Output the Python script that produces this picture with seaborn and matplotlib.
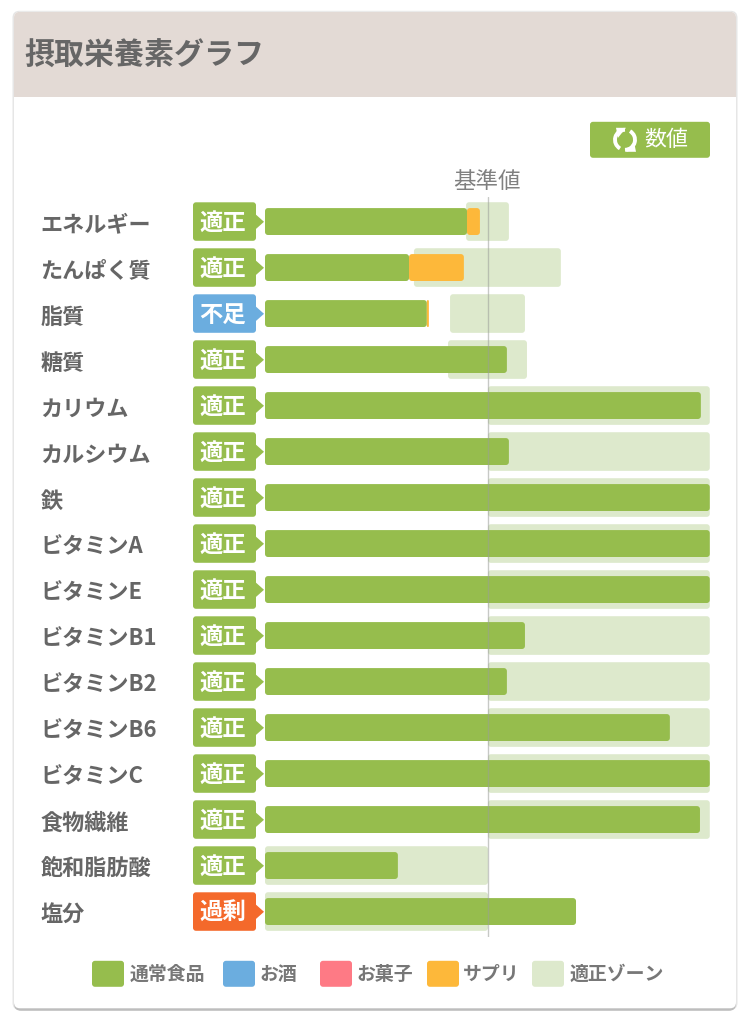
import numpy as np
import seaborn as sns
import matplotlib.pyplot as plt
from matplotlib.patches import FancyBboxPatch, Polygon, Arc, Rectangle

nutrients = ['エネルギー', 'たんぱく質', '脂質', '糖質', 'カリウム', 'カルシウム', '鉄', 'ビタミンA',
             'ビタミンE', 'ビタミンB1', 'ビタミンB2', 'ビタミンB6', 'ビタミンC', '食物繊維', '飽和脂肪酸', '塩分']
status = ['適正', '適正', '不足', '適正', '適正', '適正', '適正', '適正',
          '適正', '適正', '適正', '適正', '適正', '適正', '適正', '過剰']
# 基準値 = 100
food = [90.6, 64.6, 72.6, 108.5, 195.5, 109.4, 199.5, 199.5,
        199.5, 116.6, 108.5, 181.6, 199.5, 195.1, 59.6, 139.5]
supp = [5.8, 24.6, 0.9, 0, 0, 0, 0, 0, 0, 0, 0, 0, 0, 0, 0, 0]
zone_lo = [90.2, 66.8, 83.0, 82.1, 100, 100, 100, 100, 100, 100, 100, 100, 100, 100, 0, 0]
zone_hi = [109.4, 132.7, 116.6, 117.5, 199.5, 199.5, 199.5, 199.5,
           199.5, 199.5, 199.5, 199.5, 199.5, 199.5, 100, 100]
legend_names = ['通常食品', 'お酒', 'お菓子', 'サプリ', '適正ゾーン']
legend_colors = ['#96BD4D', '#6BADDF', '#FE7A85', '#FDB83A', '#DDE9CC']
legend_box_x = [92, 223, 320, 427, 532]
legend_text_x = [130, 259, 356, 463, 570]
status_colors = {'適正': '#96BD4D', '不足': '#6BADDF', '過剰': '#F4692B'}

GREEN = '#96BD4D'
ZONE = '#DDE9CC'
ORANGE = '#FDB83A'
TEXT = '#666666'

sns.set_style('white')
plt.rcParams['font.family'] = ['Noto Sans CJK JP', 'DejaVu Sans']

W, H = 750, 1020
fig = plt.figure(figsize=(W / 100, H / 100), dpi=100, facecolor='white')

# 背景レイヤー（ピクセル座標）
bg = fig.add_axes([0, 0, 1, 1], zorder=0)
bg.set_xlim(0, W)
bg.set_ylim(H - 0.8, -0.8)
bg.axis('off')


def round_box(x0, y0, x1, y1, color, r=4, **kw):
    p = FancyBboxPatch((x0, y0), x1 - x0, y1 - y0, boxstyle='round,pad=0,rounding_size=%s' % r,
                       fc=color, ec='none', **kw)
    bg.add_patch(p)
    return p


# カード
round_box(12.5, 11, 737.5, 1010, '#E6E6E6', r=7)
round_box(14, 14, 736, 1011, '#BDBDBD', r=7)
card = round_box(14, 12, 736, 1008.5, 'white', r=6)
header = Rectangle((14, 12), 722, 85, fc='#E3DAD5', ec='none')
bg.add_patch(header)
header.set_clip_path(card)
bg.text(24, 55, '摂取栄養素グラフ', fontsize=21.6, fontweight='bold', color=TEXT, ha='left', va='center')

# 数値ボタン
round_box(590, 122, 710, 158, GREEN, r=3)
bg.text(666, 139.5, '数値', fontsize=15.8, color='white', ha='center', va='center')
bg.add_patch(Arc((625, 140), 20, 20, theta1=120, theta2=270, color='white', lw=2.8))
bg.add_patch(Arc((625, 140), 20, 20, theta1=300, theta2=90, color='white', lw=2.8))
bg.add_patch(Polygon([(616, 128), (626, 128), (618, 138)], fc='white', ec='none'))
bg.add_patch(Polygon([(636, 152), (626, 152), (634, 142)], fc='white', ec='none'))

bg.text(487, 181, '基準値', fontsize=16.2, color='#808080', ha='center', va='center')

# 判定ラベル
for i, s in enumerate(status):
    cy = 222 + 46 * i
    c = status_colors[s]
    round_box(193, cy - 19.5, 256, cy + 19, c, r=3)
    bg.add_patch(Polygon([(255, cy - 8), (264, cy), (255, cy + 8)], fc=c, ec='none'))
    bg.text(223, cy, s, fontsize=16.8, fontweight='bold', color='white', ha='center', va='center')

# 凡例
for name, c, bx, tx in zip(legend_names, legend_colors, legend_box_x, legend_text_x):
    round_box(bx, 961, bx + 32, 987, c, r=3)
    bg.text(tx, 974, name, fontsize=13.6, fontweight='bold', color='#777777', ha='left', va='center')

# グラフ本体
ax = fig.add_axes([265 / W, 1 - 938.3 / H, 445 / W, 740.6 / H], zorder=1)
ax.patch.set_alpha(0)
zone_width = np.array(zone_hi) - np.array(zone_lo)
sns.barplot(y=nutrients, x=zone_width, left=zone_lo, order=nutrients, orient='h', color=ZONE,
            saturation=1, width=0.84, errorbar=None, ax=ax)
sns.barplot(y=nutrients, x=food, order=nutrients, orient='h', color=GREEN,
            saturation=1, width=0.585, errorbar=None, ax=ax)
sns.barplot(y=nutrients, x=supp, left=food, order=nutrients, orient='h', color=ORANGE,
            saturation=1, width=0.585, errorbar=None, ax=ax)
ax.set_xlim(0, 199.6)
ax.set_ylim(15.56, -0.54)

# 棒の角を丸める
x_px = 445 / 199.6
y_px = 46
for bar in list(ax.patches):
    x0, y0, w, h = bar.get_x(), bar.get_y(), bar.get_width(), bar.get_height()
    color = bar.get_facecolor()
    bar.remove()
    if w <= 0:
        continue
    r = min(3 / x_px, w / 2)
    ax.add_patch(FancyBboxPatch((x0, y0), w, h, boxstyle='round,pad=0,rounding_size=%s' % r,
                                mutation_aspect=(3 / y_px) / (3 / x_px), fc=color, ec='none',
                                zorder=2))

ax.axvline(100, color='#9A9E98', lw=1, alpha=0.55, zorder=3)

ax.set(xlabel='', ylabel='')
ax.set_xticks([])
sns.despine(ax=ax, left=True, bottom=True)
ax.tick_params(axis='y', length=0, pad=(265 - 40.5) * 0.72)
for label in ax.get_yticklabels():
    label.set_ha('left')
    label.set_fontsize(15.9)
    label.set_fontweight('bold')
    label.set_color(TEXT)

fig.savefig('out.png', dpi=100)
